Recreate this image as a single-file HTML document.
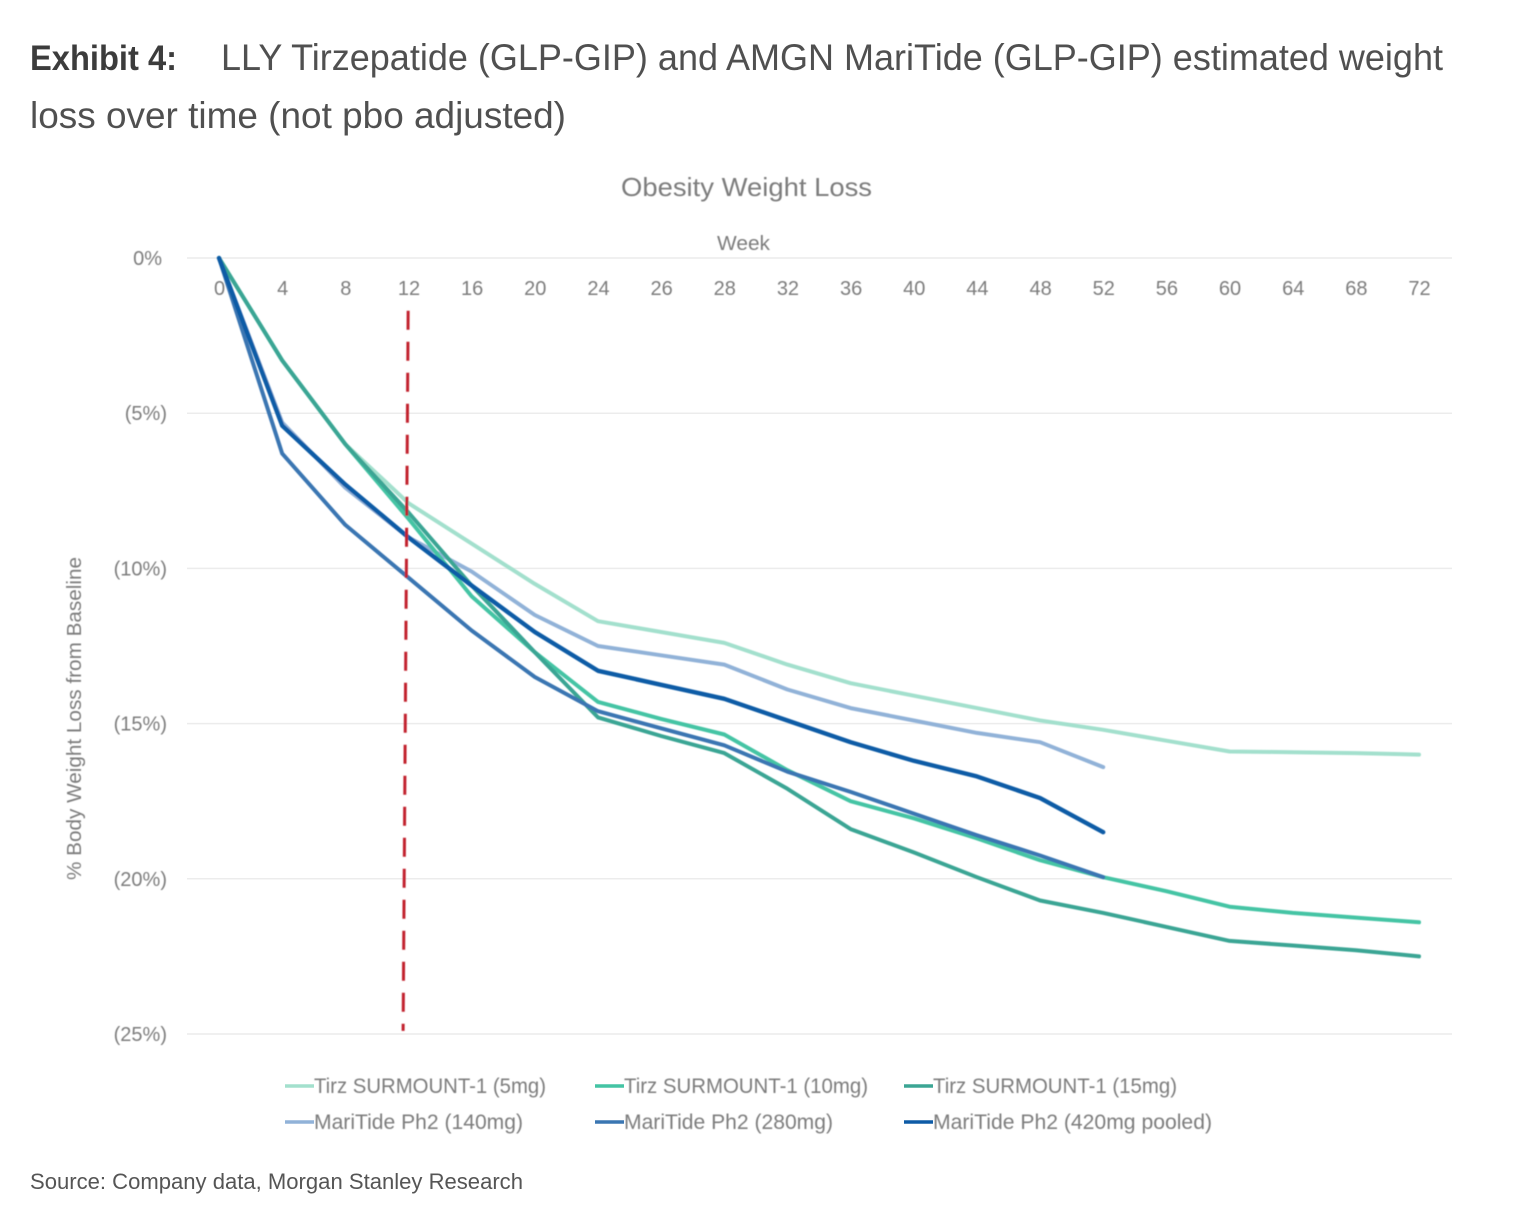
<!DOCTYPE html>
<html lang="en">
<head>
<meta charset="utf-8">
<title>Exhibit 4</title>
<style>
html,body{margin:0;padding:0;background:#fff;}
body{width:1526px;height:1214px;overflow:hidden;}
svg{display:block;}
text{font-family:"Liberation Sans",sans-serif;}
.chart-text{fill:#7d7d7d;filter:url(#soft);}
</style>
</head>
<body>
<svg id="page" xmlns="http://www.w3.org/2000/svg" width="1526" height="1214" viewBox="0 0 1526 1214">
  <defs>
    <filter id="soft" x="-5%" y="-30%" width="110%" height="160%"><feGaussianBlur stdDeviation="0.45"/></filter>
    <filter id="softline" filterUnits="userSpaceOnUse" x="0" y="200" width="1526" height="900"><feGaussianBlur stdDeviation="0.6"/></filter>
  </defs>
  <text x="30" y="70" font-size="35" font-weight="700" fill="#3c3c3c" textLength="147" lengthAdjust="spacingAndGlyphs">Exhibit 4:</text>
  <text x="221" y="70" font-size="37" fill="#505050" textLength="1222" lengthAdjust="spacingAndGlyphs">LLY Tirzepatide (GLP-GIP) and AMGN MariTide (GLP-GIP) estimated weight</text>
  <text x="30" y="128" font-size="37" fill="#505050" textLength="536" lengthAdjust="spacingAndGlyphs">loss over time (not pbo adjusted)</text>
  <text class="chart-text" x="621" y="196" font-size="26" textLength="251" lengthAdjust="spacingAndGlyphs">Obesity Weight Loss</text>
  <text class="chart-text" x="717" y="250" font-size="20" textLength="53" lengthAdjust="spacingAndGlyphs">Week</text>
  <text class="chart-text" transform="translate(81,880) rotate(-90)" font-size="20" textLength="323" lengthAdjust="spacingAndGlyphs">% Body Weight Loss from Baseline</text>
  <g id="grid"></g>
  <g id="yticks"></g>
  <g id="xticks"></g>
  <g id="series" filter="url(#softline)"></g>
  <g id="legend"></g>
  <text x="30" y="1189" font-size="22.5" fill="#555" textLength="493" lengthAdjust="spacingAndGlyphs">Source: Company data, Morgan Stanley Research</text>
</svg>
<script>
var weeks = ['0','4','8','12','16','20','24','26','28','32','36','40','44','48','52','56','60','64','68','72'];
var yTickValues = [0, 5, 10, 15, 20, 25];
var yTickLabels = ['0%', '(5%)', '(10%)', '(15%)', '(20%)', '(25%)'];

var tirz5 = [0, 3.3, 6.0, 7.9, 9.2, 10.5, 11.7, 12.05, 12.4, 13.1, 13.7, 14.1, 14.5, 14.9, 15.2, 15.55, 15.9, 15.92, 15.95, 16.0];
var tirz10 = [0, 3.3, 6.0, 8.4, 10.9, 12.7, 14.3, 14.85, 15.35, 16.5, 17.5, 18.05, 18.7, 19.4, 19.95, 20.4, 20.9, 21.1, 21.25, 21.4];
var tirz15 = [0, 3.3, 6.0, 8.2, 10.55, 12.7, 14.8, 15.4, 15.95, 17.1, 18.4, 19.15, 19.95, 20.7, 21.1, 21.55, 22.0, 22.15, 22.3, 22.5];
var mari140 = [0, 5.3, 7.4, 9.0, 10.1, 11.5, 12.5, 12.8, 13.1, 13.9, 14.5, 14.9, 15.3, 15.6, 16.4];
var mari280 = [0, 6.3, 8.6, 10.3, 12.0, 13.5, 14.6, 15.15, 15.7, 16.55, 17.2, 17.9, 18.6, 19.25, 19.95];
var mari420 = [0, 5.4, 7.3, 9.0, 10.55, 12.05, 13.3, 13.75, 14.2, 14.9, 15.6, 16.2, 16.7, 17.4, 18.5];

var seriesNames = ['Tirz SURMOUNT-1 (5mg)', 'Tirz SURMOUNT-1 (10mg)', 'Tirz SURMOUNT-1 (15mg)', 'MariTide Ph2 (140mg)', 'MariTide Ph2 (280mg)', 'MariTide Ph2 (420mg pooled)'];
var seriesValues = [tirz5, tirz10, tirz15, mari140, mari280, mari420];
var seriesKeys = ['tirz-5mg', 'tirz-10mg', 'tirz-15mg', 'maritide-140mg', 'maritide-280mg', 'maritide-420mg'];

var NS = 'http://www.w3.org/2000/svg';
var colors = ['#a3e0cd', '#44c4a4', '#3ba594', '#91b2d8', '#3a76b2', '#0e5ba6'];
var widths = [4, 4, 4, 4, 4, 4.4];
var drawOrder = [0, 3, 1, 2, 4, 5];

function xAt(i) { return 219 + i * 63.16; }
function yAt(v) { return 258 + v * 31.04; }

var grid = document.getElementById('grid');
var yticks = document.getElementById('yticks');
var xticks = document.getElementById('xticks');
var seriesGroup = document.getElementById('series');
var legend = document.getElementById('legend');

yTickValues.forEach(function (v, i) {
  var line = document.createElementNS(NS, 'line');
  
  
  line.setAttribute('x1', 187);
  line.setAttribute('x2', 1452);
  line.setAttribute('y1', yAt(v));
  line.setAttribute('y2', yAt(v));
  line.setAttribute('stroke', '#ececec');
  line.setAttribute('stroke-width', '1.5');
  grid.appendChild(line);

  var t = document.createElementNS(NS, 'text');
  
  
  t.setAttribute('class', 'chart-text');
  t.setAttribute('x', i === 0 ? 162 : 167);
  t.setAttribute('y', yAt(v) + 7);
  t.setAttribute('font-size', '20');
  t.setAttribute('text-anchor', 'end');
  t.textContent = yTickLabels[i];
  yticks.appendChild(t);
});

weeks.forEach(function (w, i) {
  var t = document.createElementNS(NS, 'text');
  
  
  t.setAttribute('class', 'chart-text');
  t.setAttribute('x', xAt(i) + 0.5);
  t.setAttribute('y', 295);
  t.setAttribute('font-size', '20');
  t.setAttribute('text-anchor', 'middle');
  t.textContent = w;
  xticks.appendChild(t);
});

drawOrder.forEach(function (s) {
  var pts = seriesValues[s].map(function (v, i) {
    return xAt(i).toFixed(1) + ',' + yAt(v).toFixed(1);
  }).join(' ');
  var p = document.createElementNS(NS, 'polyline');
  
  
  p.setAttribute('points', pts);
  p.setAttribute('fill', 'none');
  p.setAttribute('stroke', colors[s]);
  p.setAttribute('stroke-width', widths[s]);
  p.setAttribute('stroke-linejoin', 'round');
  p.setAttribute('stroke-linecap', 'round');
  seriesGroup.appendChild(p);
});

var marker = document.createElementNS(NS, 'line');


marker.setAttribute('x1', xAt(2.995));
marker.setAttribute('y1', yAt(1.7));
marker.setAttribute('x2', xAt(2.915));
marker.setAttribute('y2', yAt(24.9));
marker.setAttribute('stroke', '#c2232f');
marker.setAttribute('stroke-width', '3');
marker.setAttribute('stroke-dasharray', '19 12');
seriesGroup.appendChild(marker);

var legendColumns = [285, 595, 904];
var legendRows = [1086, 1122];
var legendTextWidths = [232, 244, 244, 209, 209, 279];
seriesNames.forEach(function (name, s) {
  var col = s % 3;
  var row = Math.floor(s / 3);
  var sw = document.createElementNS(NS, 'line');
  
  
  sw.setAttribute('x1', legendColumns[col]);
  sw.setAttribute('x2', legendColumns[col] + 29);
  sw.setAttribute('y1', legendRows[row]);
  sw.setAttribute('y2', legendRows[row]);
  sw.setAttribute('stroke', colors[s]);
  sw.setAttribute('stroke-width', '3.6');
  legend.appendChild(sw);

  var t = document.createElementNS(NS, 'text');
  
  
  t.setAttribute('class', 'chart-text');
  t.setAttribute('x', legendColumns[col] + 29);
  t.setAttribute('y', legendRows[row] + 7);
  t.setAttribute('font-size', '21');
  t.setAttribute('textLength', legendTextWidths[s]);
  t.setAttribute('lengthAdjust', 'spacingAndGlyphs');
  t.textContent = name;
  legend.appendChild(t);
});
</script>
</body>
</html>
